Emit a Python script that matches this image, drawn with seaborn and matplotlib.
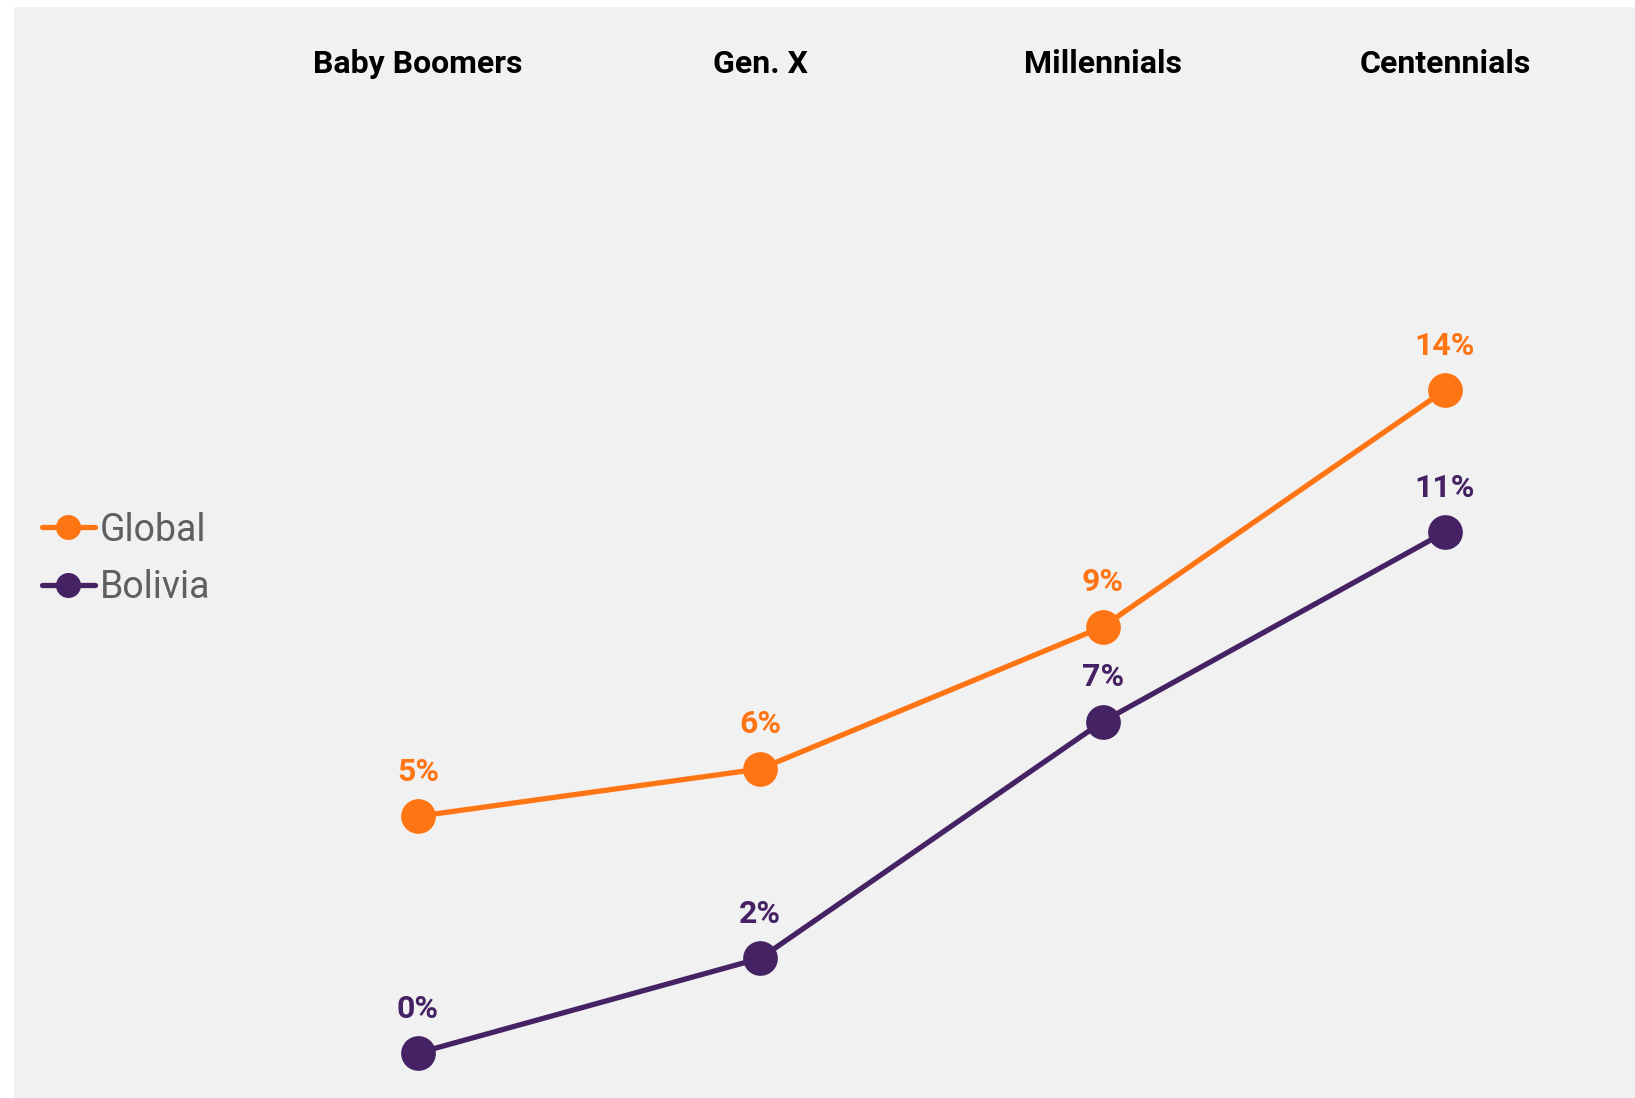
import matplotlib
matplotlib.use('Agg')
import matplotlib.pyplot as plt
import pandas as pd
import seaborn as sns

# Datos
generaciones = ['Baby Boomers', 'Gen. X', 'Millennials', 'Centennials']
global_vals = [5, 6, 9, 14]
bolivia_vals = [0, 2, 7, 11]
series = ['Global', 'Bolivia']
colores = {'Global': '#FF7514', 'Bolivia': '#452263'}

df = pd.DataFrame({
    'pos': list(range(len(generaciones))) * 2,
    'valor': global_vals + bolivia_vals,
    'serie': ['Global'] * len(global_vals) + ['Bolivia'] * len(bolivia_vals),
})

sns.set_theme(style='white')
plt.rcParams['font.family'] = ['Roboto', 'DejaVu Sans']

fig = plt.figure(figsize=(16.35, 10.98), dpi=100, facecolor='white')
ax = fig.add_axes([14 / 1635, 0, 1 - 14 / 1635, 1 - 7 / 1098])
ax.set_facecolor('#F1F1F1')

sns.lineplot(data=df, x='pos', y='valor', hue='serie', hue_order=series,
             palette=colores, marker='o', markersize=25, markeredgewidth=0,
             linewidth=3.8, ax=ax)

# Etiquetas de valores sobre cada punto
for s in series:
    sub = df[df['serie'] == s]
    for x, y in zip(sub['pos'], sub['valor']):
        ax.annotate(f'{y}%', (x, y), xytext=(0, 32), textcoords='offset points',
                    ha='center', va='center', fontsize=23, fontweight='bold',
                    color=colores[s])

ax.set_xlim(-1.18, 3.555)
ax.set_ylim(-0.95, 22.09)
ax.xaxis.tick_top()
ax.set_xticks(range(len(generaciones)))
ax.set_xticklabels(generaciones, fontsize=23, fontweight='bold', color='black')
ax.tick_params(axis='x', length=0, pad=-52)
ax.set_yticks([])
ax.set_xlabel('')
ax.set_ylabel('')
for sp in ax.spines.values():
    sp.set_visible(False)

handles, labels = ax.get_legend_handles_labels()
ax.legend(handles, labels, loc='center left', bbox_to_anchor=(0.0257, 0.491),
          bbox_transform=fig.transFigure, frameon=False, fontsize=27,
          labelcolor='#5F5F5F', handlelength=1.4, handletextpad=0.15,
          labelspacing=0.55, borderpad=0, borderaxespad=0, markerscale=0.72)

fig.savefig('out.png', dpi=100, facecolor='white')
